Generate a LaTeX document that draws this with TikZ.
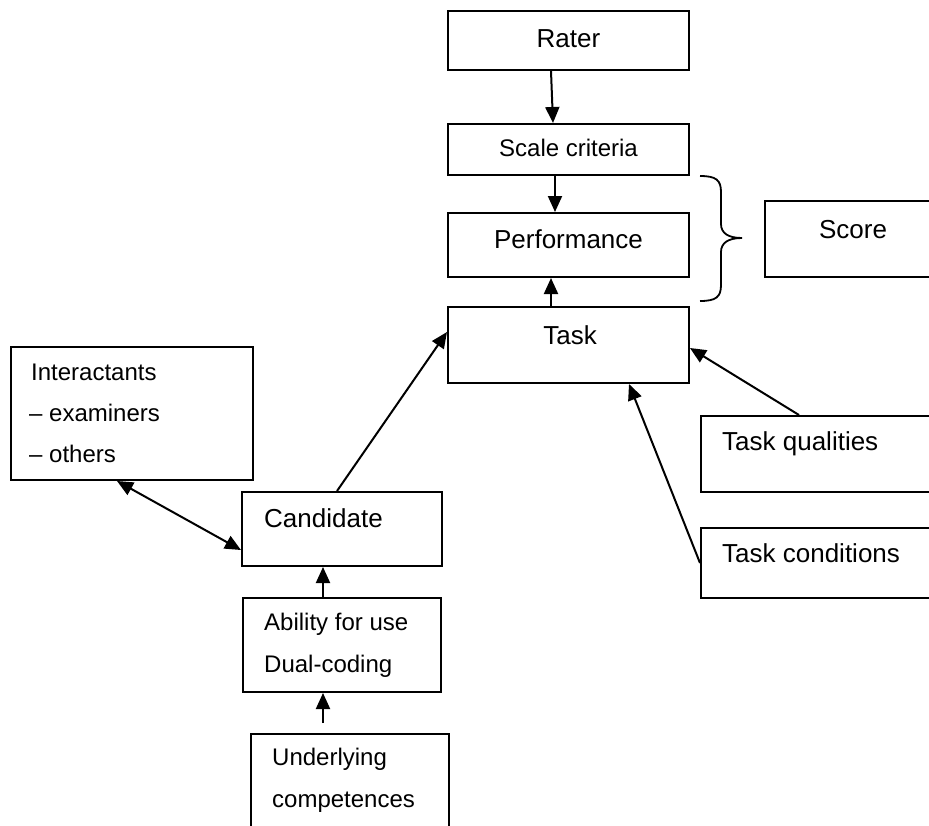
\documentclass[tikz,border=0pt]{standalone}
\usepackage{fontspec}
\setmainfont{Liberation Sans}
\usetikzlibrary{arrows.meta}
\tikzset{
  box/.style={draw=black, line width=2pt, rectangle, inner sep=0pt, fill=none},
  big/.style={font=\fontsize{26}{30}\selectfont, inner sep=0pt},
  small/.style={font=\fontsize{24}{28}\selectfont, inner sep=0pt},
  arr/.style={line width=2pt, -{Triangle[length=16pt,width=14pt]}},
  darr/.style={line width=2pt, {Triangle[length=16pt,width=14pt]}-{Triangle[length=16pt,width=14pt]}},
}
\begin{document}
\begin{tikzpicture}[x=1pt,y=-1pt]
\useasboundingbox (0,0) rectangle (929,825);
\clip (0,0) rectangle (929,825);
% boxes
\node[box, minimum width=241pt, minimum height=59pt] (rater) at (568.5,40.5) {};
\node[box, minimum width=241pt, minimum height=51pt] (scale) at (568.5,149.5) {};
\node[box, minimum width=241pt, minimum height=64pt] (perf) at (568.5,245) {};
\node[box, minimum width=241pt, minimum height=76pt] (task) at (568.5,345) {};
\node[box, minimum width=236pt, minimum height=76pt] (score) at (883,239) {};
\node[box, minimum width=242pt, minimum height=133pt] (inter) at (132,413.5) {};
\node[box, minimum width=200pt, minimum height=74pt] (cand) at (342,529) {};
\node[box, minimum width=198pt, minimum height=94pt] (abil) at (342,645) {};
\node[box, minimum width=198pt, minimum height=126pt] (under) at (350,797) {};
\node[box, minimum width=300pt, minimum height=76pt] (tq) at (851,454) {};
\node[box, minimum width=300pt, minimum height=70pt] (tc) at (851,563) {};
% texts
\node[big, anchor=base] (traterr) at (568.5,47) {Rater};
\node[small, anchor=base] (tscale) at (568.5,156) {Scale criteria};
\node[big, anchor=base] (tperf) at (568.5,248) {Performance};
\node[big, anchor=base] (ttask) at (570,344) {Task};
\node[big, anchor=base] (tscore) at (853,238) {Score};
\node[small, anchor=base west] (ti1) at (31,380) {Interactants};
\node[small, anchor=base west] (ti2) at (29,421) {– examiners};
\node[small, anchor=base west] (ti3) at (29,462) {– others};
\node[big, anchor=base west] (tcand) at (264,527) {Candidate};
\node[small, anchor=base west] (ta1) at (264,630) {Ability for use};
\node[small, anchor=base west] (ta2) at (264,672) {Dual-coding};
\node[small, anchor=base west] (tu1) at (272,765) {Underlying};
\node[small, anchor=base west] (tu2) at (272,807) {competences};
\node[big, anchor=base west] (ttq) at (722,450) {Task qualities};
\node[big, anchor=base west] (ttc) at (722,562) {Task conditions};
% connectors
\draw[arr] ([xshift=-17.5pt]rater.south) -- ([xshift=-15.5pt]scale.north);
\draw[arr] ([xshift=-13.5pt]scale.south) -- ([xshift=-13.5pt]perf.north);
\draw[arr] ([xshift=-17.5pt]task.north) -- ([xshift=-17.5pt]perf.south);
\draw[arr] ([xshift=-5pt]cand.north) -- ([yshift=13pt]task.west);
\draw[darr] ([xshift=-15pt]inter.south) -- ([yshift=-21pt]cand.west);
\draw[arr] ([xshift=-19pt]abil.north) -- ([xshift=-19pt]cand.south);
\coordinate (ut) at (323,723);
\draw[arr] (ut) -- (ut |- abil.south);
\draw[arr] ([xshift=-52pt]tq.north) -- ([yshift=-3pt]task.east);
\draw[arr] (tc.west) -- ([xshift=60.5pt]task.south);
% brace
\draw[line width=1.8pt] (700,176) .. controls (716,176) and (721,180) .. (721,192) -- (721,224) .. controls (721,233) and (728,238) .. (742,238) .. controls (728,238) and (721,243) .. (721,252) -- (721,285) .. controls (721,297) and (716,301) .. (700,301);
\end{tikzpicture}
\end{document}
